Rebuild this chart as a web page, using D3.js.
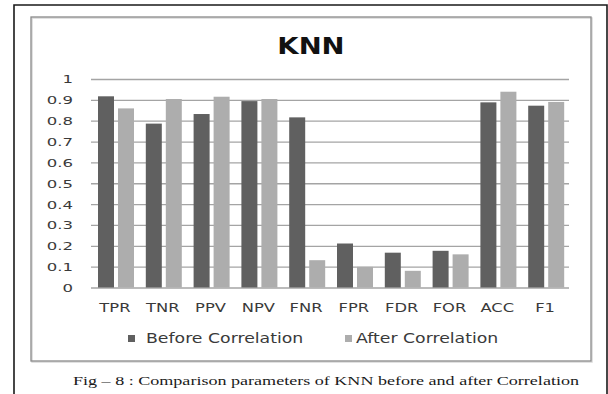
<!DOCTYPE html>
<html>
<head>
<meta charset="utf-8">
<script src="https://cdn.jsdelivr.net/npm/d3@7"></script>
<style>
  html, body { margin: 0; padding: 0; background: #fff; }
  svg { display: block; }
</style>
</head>
<body>
<svg id="chart" width="608" height="394"></svg>
<script>
// KNN metrics before and after correlation-based feature selection
const categories = ["TPR", "TNR", "PPV", "NPV", "FNR", "FPR", "FDR", "FOR", "ACC", "F1"];
const seriesNames = ["Before Correlation", "After Correlation"];
const beforeValues = [0.917, 0.786, 0.832, 0.894, 0.816, 0.211, 0.167, 0.176, 0.888, 0.872];
const afterValues  = [0.859, 0.904, 0.915, 0.904, 0.131, 0.099, 0.080, 0.159, 0.939, 0.890];
const yTicks = [0, 0.1, 0.2, 0.3, 0.4, 0.5, 0.6, 0.7, 0.8, 0.9, 1];
const yTickLabels = ["0", "0.1", "0.2", "0.3", "0.4", "0.5", "0.6", "0.7", "0.8", "0.9", "1"];
const title = "KNN";
const caption = "Fig \u2013 8 : Comparison parameters of KNN before and after Correlation";

const colors = ["#606060", "#adadad"];
const svg = d3.select("#chart");

// widen text horizontally to the look of the printed figure
function stretch(sel, sx) {
  sel.each(function () {
    const w = this.getComputedTextLength();
    d3.select(this).attr("textLength", w * sx).attr("lengthAdjust", "spacingAndGlyphs");
  });
}

// page border and chart frame
svg.append("path")
  .attr("d", "M14,394 L14,5 L607,5 L607,394")
  .attr("fill", "none").attr("stroke", "#1a1a1a").attr("stroke-width", 1.6);
svg.append("rect")
  .attr("x", 32).attr("y", 18).attr("width", 560).attr("height", 344)
  .attr("fill", "none").attr("stroke", "#d8d8d8").attr("stroke-width", 1.5);
svg.append("rect")
  .attr("x", 31).attr("y", 17).attr("width", 560).attr("height", 344)
  .attr("fill", "none").attr("stroke", "#8a8a8a").attr("stroke-width", 1.3);

// scales
const x0 = d3.scaleBand().domain(categories).range([91, 569]).padding(0);
const x1 = d3.scaleBand().domain(seriesNames).range([7, 43]).paddingInner(0.2).paddingOuter(0);
const y = d3.scaleLinear().domain([0, 1]).range([287.5, 79]);

// gridlines
const yAxis = d3.axisLeft(y).tickValues(yTicks)
  .tickFormat((d, i) => yTickLabels[i])
  .tickSize(-(569 - 91)).tickPadding(18);
const gy = svg.append("g").attr("transform", "translate(91,0)").call(yAxis);
gy.select(".domain").remove();
gy.selectAll(".tick line").attr("stroke", "#a4a4a4").attr("stroke-width", 1.3);
gy.selectAll(".tick text")
  .attr("fill", "#3a3a3a")
  .attr("font-family", "DejaVu Sans, Verdana, sans-serif")
  .attr("font-size", 11)
  .attr("dy", "0.36em")
  .call(stretch, 1.5);

// bars
const rows = categories.map((c, i) => ({ cat: c, vals: [beforeValues[i], afterValues[i]] }));
const groups = svg.append("g").selectAll("g").data(rows).join("g")
  .attr("transform", d => `translate(${x0(d.cat)},0)`);
groups.selectAll("rect")
  .data(d => d.vals.map((v, k) => ({ key: seriesNames[k], v, k })))
  .join("rect")
  .attr("x", d => x1(d.key))
  .attr("width", x1.bandwidth())
  .attr("y", d => y(d.v))
  .attr("height", d => y(0) - y(d.v))
  .attr("fill", d => colors[d.k]);

// category axis labels
const xAxis = d3.axisBottom(x0).tickSize(0).tickPadding(0);
const gx = svg.append("g").attr("transform", "translate(0,0)").call(xAxis);
gx.select(".domain").remove();
gx.selectAll(".tick text")
  .attr("y", 311.5).attr("dy", 0)
  .attr("fill", "#3a3a3a")
  .attr("font-family", "DejaVu Sans, Verdana, sans-serif")
  .attr("font-size", 11.5)
  .call(stretch, 1.42);

// title
svg.append("text")
  .attr("x", 311).attr("y", 53.5)
  .attr("text-anchor", "middle")
  .attr("font-family", "DejaVu Sans, Verdana, sans-serif")
  .attr("font-weight", "bold")
  .attr("font-size", 22.5)
  .attr("fill", "#111")
  .text(title)
  .call(stretch, 1.22);

// legend
const legendX = [128, 345];
const legendTextX = [146, 356];
const lg = svg.append("g").selectAll("g").data(seriesNames).join("g");
lg.append("rect")
  .attr("x", (d, i) => legendX[i]).attr("y", 335)
  .attr("width", 7).attr("height", 7)
  .attr("fill", (d, i) => colors[i]);
lg.append("text")
  .attr("x", (d, i) => legendTextX[i]).attr("y", 343.3)
  .attr("fill", "#3a3a3a")
  .attr("font-family", "DejaVu Sans, Verdana, sans-serif")
  .attr("font-size", 13.5)
  .text(d => d)
  .call(stretch, 1.28);

// figure caption
svg.append("text")
  .attr("x", 73).attr("y", 384.5)
  .attr("font-family", "Liberation Serif, Times New Roman, serif")
  .attr("font-size", 11.5)
  .attr("fill", "#1a1a1a")
  .text(caption)
  .each(function () {
    d3.select(this).attr("textLength", 506).attr("lengthAdjust", "spacingAndGlyphs");
  });
</script>
</body>
</html>
